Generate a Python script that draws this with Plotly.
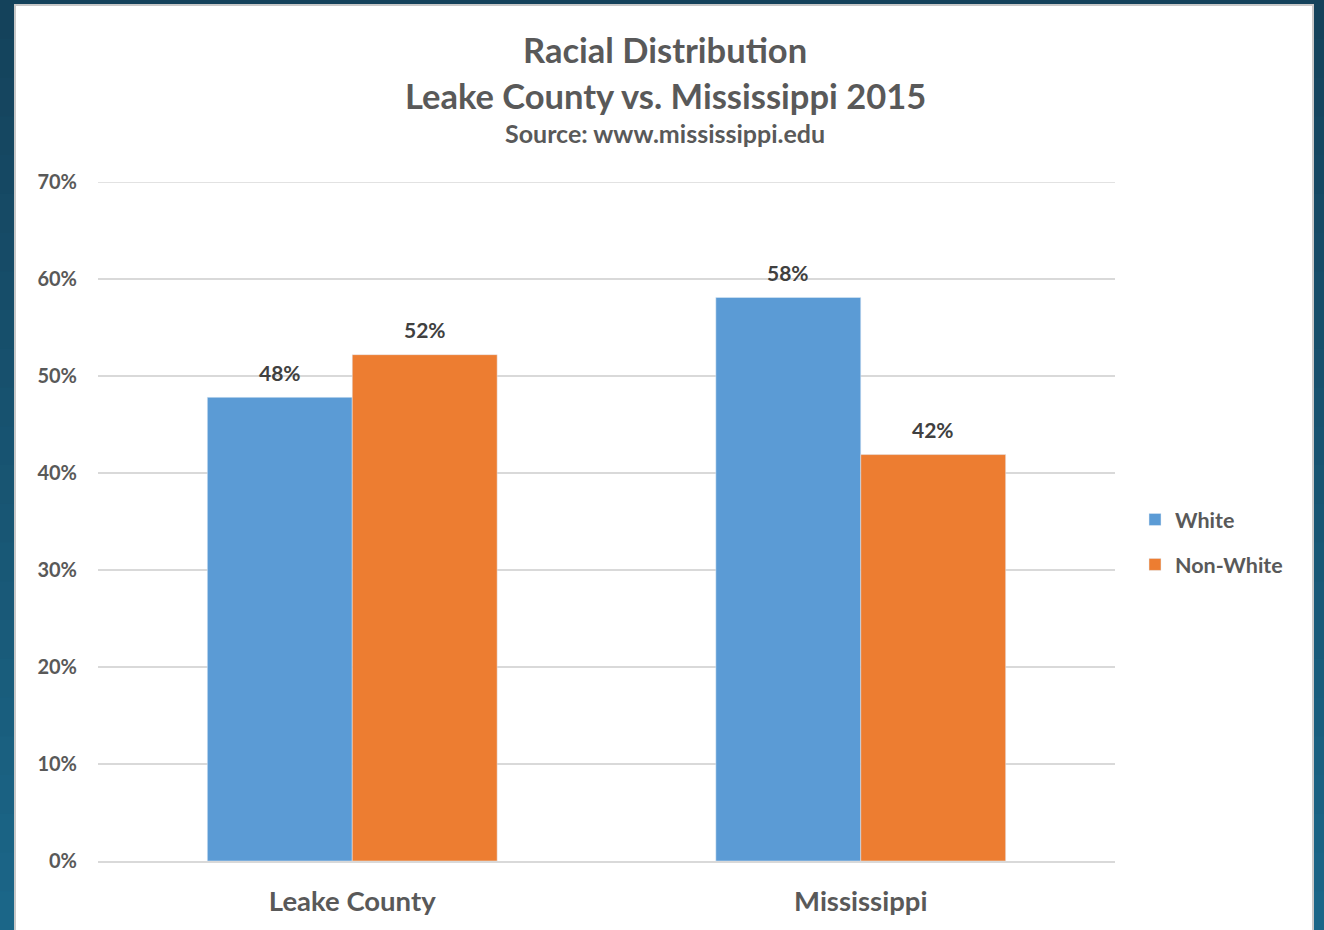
import plotly.graph_objects as go

categories = ["Leake County", "Mississippi"]
white = [0.478, 0.581]
non_white = [0.522, 0.419]
white_labels = ["48%", "58%"]
non_white_labels = ["52%", "42%"]
y_ticks = [0, 0.1, 0.2, 0.3, 0.4, 0.5, 0.6, 0.7]

W, H = 1324, 930
L, R, T, B = 98, 1115, 182, 861

def px(x):
    return (x - L) / (R - L)

def py(y):
    return (B - y) / (B - T)

font_family = "Lato, 'Open Sans', sans-serif"
gray = "#595959"

fig = go.Figure()
fig.add_trace(go.Bar(name="White", x=categories, y=white, marker_color="#5b9bd5",
                     legendgroup="a"))
fig.add_trace(go.Bar(name="Non-White", x=categories, y=non_white, marker_color="#ed7d31",
                     legendgroup="b"))

shapes = []
n = 24
c0 = (0x14, 0x42, 0x5b)
c1 = (0x1b, 0x66, 0x88)
for i in range(n):
    t = i / (n - 1)
    c = tuple(int(round(c0[k] + (c1[k] - c0[k]) * t)) for k in range(3))
    y0 = H * i / n
    y1 = H * (i + 1) / n + 1
    shapes.append(dict(type="rect", xref="paper", yref="paper",
                       x0=px(0), x1=px(W), y0=py(y1), y1=py(y0),
                       fillcolor="rgb(%d,%d,%d)" % c, line_width=0, layer="below"))
shapes.append(dict(type="rect", xref="paper", yref="paper",
                   x0=px(14), x1=px(1314), y0=py(H + 5), y1=py(4),
                   fillcolor="#c8c8c8", line_width=0, layer="below"))
shapes.append(dict(type="rect", xref="paper", yref="paper",
                   x0=px(16), x1=px(1312), y0=py(H + 5), y1=py(6),
                   fillcolor="white", line_width=0, layer="below"))
# top gridline (hidden by plotly at the range edge)
shapes.append(dict(type="line", xref="paper", yref="y", x0=0, x1=1,
                   y0=y_ticks[-1], y1=y_ticks[-1],
                   line=dict(color="#d9d9d9", width=1.5), layer="below"))

annotations = [
    dict(text="Racial Distribution", x=px(665), y=py(49), xref="paper", yref="paper",
         yanchor="middle", showarrow=False,
         font=dict(size=34.5, color=gray, family=font_family, weight="bold")),
    dict(text="Leake County vs. Mississippi 2015", x=px(665), y=py(95), xref="paper", yref="paper",
         yanchor="middle", showarrow=False,
         font=dict(size=34.5, color=gray, family=font_family, weight="bold")),
    dict(text="Source: www.mississippi.edu", x=px(665), y=py(133), xref="paper", yref="paper",
         yanchor="middle", showarrow=False,
         font=dict(size=25, color=gray, family=font_family, weight="bold")),
]

half_bar_px = 72.5
for vals, labs, sign in ((white, white_labels, -1), (non_white, non_white_labels, 1)):
    for cat, v, lab in zip(categories, vals, labs):
        annotations.append(dict(
            x=cat, y=v, xref="x", yref="y", text=lab, showarrow=False,
            xshift=sign * half_bar_px, yshift=25, yanchor="middle",
            font=dict(size=21, color="#404040", family=font_family, weight="bold")))

fig.update_layout(
    width=W, height=H,
    margin=dict(l=L, r=W - R, t=T, b=H - B, pad=0),
    paper_bgcolor="#15506b",
    plot_bgcolor="rgba(0,0,0,0)",
    barmode="group",
    bargap=0.43,
    bargroupgap=0,
    shapes=shapes,
    annotations=annotations,
    showlegend=True,
    legend=dict(x=px(1135), y=py(542), xanchor="left", yanchor="middle",
                font=dict(size=21.5, color=gray, family=font_family, weight="bold"),
                traceorder="grouped", tracegroupgap=14, bgcolor="rgba(0,0,0,0)",
                itemwidth=30),
    font=dict(family=font_family),
)
fig.update_yaxes(range=[0, 0.7], tickvals=y_ticks,
                 tickformat=".0%",
                 gridcolor="#d9d9d9", gridwidth=1.5, zeroline=False,
                 showline=False, ticks="", ticklabelstandoff=20,
                 tickfont=dict(size=20, color=gray, family=font_family, weight="bold"))
fig.update_xaxes(showline=True, linecolor="#d9d9d9", linewidth=1.5, ticks="",
                 tickfont=dict(size=27.5, color=gray, family=font_family, weight="bold"),
                 ticklabelstandoff=15)

fig.write_html("out.html")
